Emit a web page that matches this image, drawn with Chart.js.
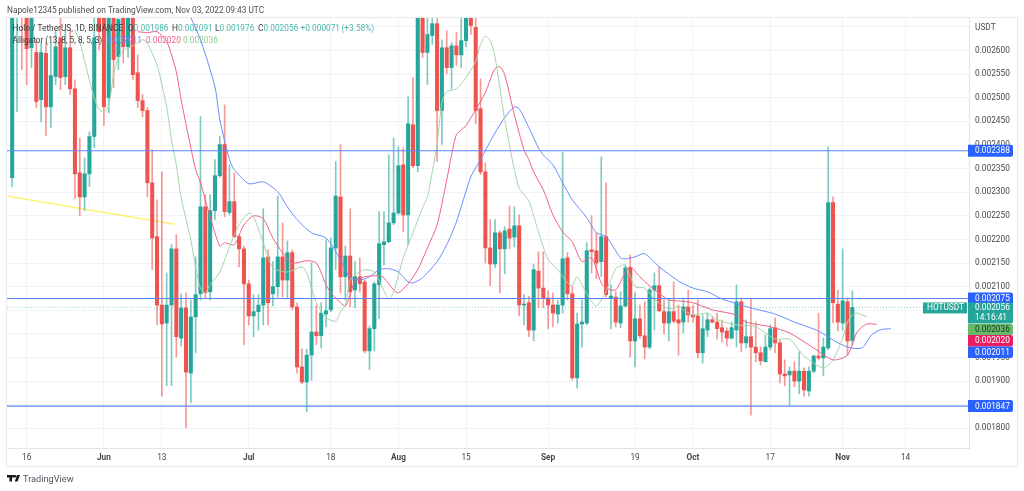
<!DOCTYPE html>
<html>
<head>
<meta charset="utf-8">
<title>HOTUSDT</title>
<script src="https://cdn.jsdelivr.net/npm/chart.js@4/dist/chart.umd.min.js"></script>
<style>
  html, body { margin: 0; padding: 0; background: #fff; overflow: hidden; }
  canvas { display: block; }
</style>
</head>
<body>
<canvas id="myChart" width="1024" height="491"></canvas>
<script>
// prices are in millionths of a USDT, days count from 16 May
const firstDay = -3;
const opens = [2331,2690,2720,2680,2606,2596,2496,2594,2481,2545,2627,2545,2606,2519,2341,2290,2339,2418,2690,2687,2500,2687,2587,2687,2608,2687,2553,2494,2473,2320,2206,2061,2023,2061,2180,1991,2055,1917,2036,2085,2269,2089,2261,2335,2401,2257,2280,2206,2180,2106,2038,2047,2061,2163,2085,2100,2163,2114,2172,2057,1930,1898,1955,2004,1996,2042,2051,2182,2290,2121,2165,2093,2121,2110,1964,2011,2104,2189,2195,2235,2256,2358,2252,2443,2356,2687,2596,2632,2657,2473,2606,2564,2610,2591,2621,2687,2649,2477,2343,2182,2148,2214,2180,2222,2205,2229,2061,2066,2008,2133,2097,2076,2061,2042,2061,2161,2085,1907,2021,2023,2178,2176,2153,2206,2076,2078,2023,2059,2140,1985,2032,1996,1972,2093,2102,2047,2023,2047,2030,2025,2057,2040,2038,1960,2008,2030,2025,2013,2006,1991,2008,2068,1981,1994,1972,1960,1941,1972,2013,1981,1915,1913,1921,1900,1921,1879,1921,1953,1949,1970,2278,2063,2023,2068,1986];
const closes = [2687,2720,2690,2604,2680,2492,2596,2481,2547,2608,2543,2606,2519,2339,2290,2339,2418,2627,2640,2481,2676,2581,2666,2608,2687,2549,2494,2473,2320,2203,2061,2021,2061,2180,1994,2055,1919,2036,2083,2269,2087,2261,2335,2401,2259,2280,2206,2180,2106,2038,2047,2061,2161,2066,2100,2163,2114,2172,2057,1930,1898,1955,2004,1996,2044,2049,2182,2292,2121,2165,2089,2121,2106,1964,2011,2106,2191,2195,2235,2256,2356,2252,2445,2356,2687,2596,2634,2657,2473,2606,2564,2610,2591,2621,2687,2653,2473,2343,2182,2148,2214,2180,2218,2203,2229,2061,2063,2008,2136,2097,2076,2061,2044,2061,2159,2085,1907,2021,2025,2176,2174,2150,2206,2083,2080,2025,2059,2140,1985,2032,1996,1972,2093,2102,2049,2023,2047,2027,2023,2057,2040,2036,1960,2011,2030,2025,2011,2004,1991,2013,2068,1981,1994,1972,1960,1943,1972,2011,1981,1915,1911,1921,1900,1921,1881,1921,1953,1949,1972,2278,2066,2025,2070,1985,2056];
const highs = [2697,2730,2730,2700,2700,2623,2617,2617,2617,2644,2670,2644,2644,2538,2415,2373,2428,2670,2700,2700,2700,2700,2690,2700,2700,2700,2591,2507,2479,2390,2284,2343,2129,2189,2210,2085,2087,2072,2163,2460,2295,2295,2369,2418,2485,2358,2341,2210,2186,2114,2083,2083,2265,2178,2153,2292,2235,2197,2178,2066,1968,1968,2150,2061,2066,2199,2203,2365,2401,2186,2265,2153,2161,2114,2017,2110,2259,2259,2379,2415,2396,2394,2502,2543,2700,2700,2670,2670,2687,2623,2642,2617,2638,2670,2700,2700,2670,2540,2362,2242,2242,2218,2227,2271,2269,2252,2083,2080,2148,2174,2174,2091,2087,2072,2384,2172,2100,2044,2072,2193,2250,2214,2375,2320,2104,2089,2089,2146,2167,2087,2061,2068,2097,2129,2142,2072,2072,2110,2061,2076,2093,2061,2072,2040,2044,2036,2044,2030,2013,2025,2104,2076,2030,2076,2025,1972,1998,2019,2034,1987,1945,1930,1941,1962,1928,1930,1955,2044,1991,2396,2290,2093,2180,2076,2091];
const lows = [2312,2471,2560,2528,2564,2479,2449,2420,2437,2528,2517,2528,2507,2286,2250,2261,2312,2394,2602,2441,2468,2521,2560,2574,2585,2538,2479,2460,2290,2136,2019,1868,1890,1890,1951,1974,1801,1854,1960,2072,2076,2072,2242,2331,2248,2252,2203,2142,1977,2019,1994,2008,2019,2019,2059,2078,2078,2076,2051,1917,1894,1835,1902,1977,1970,2015,2047,2136,2087,2072,2057,2055,2089,1960,1924,1964,2032,2146,2193,2231,2252,2216,2189,2352,2343,2585,2528,2613,2365,2401,2551,2519,2568,2564,2608,2634,2445,2337,2150,2102,2140,2087,2127,2180,2184,2038,2019,1994,1985,2055,2055,2011,2015,2023,2044,2072,1902,1885,1972,2019,2129,2117,2121,2078,2011,2015,2013,2057,1951,1930,1991,1947,1968,2008,2047,2000,1985,2023,1955,2002,2025,2025,1949,1938,1994,2023,1989,1983,1974,1989,1972,1962,1970,1828,1941,1934,1941,1966,1960,1896,1890,1849,1888,1873,1868,1868,1917,1945,1911,1966,2023,2006,2008,1955,1976];

const jawDays = [34,36,39,40,42,43,46,49,52,54,56,59,62,65,67,69,71,73,75,77,79,80,82,85,87,89,92,94,97,99,101,102,104,106,107,109,111,113,116,118,120,123,124,126,128,131,135,138,141,144,150,155,159,164,167,170,173,175,177,179];
const jawValues = [2670,2623,2523,2454,2369,2348,2318,2322,2301,2269,2242,2214,2203,2157,2119,2114,2121,2136,2138,2131,2110,2108,2119,2153,2189,2237,2333,2369,2426,2458,2481,2477,2437,2394,2379,2358,2320,2284,2246,2214,2206,2161,2159,2163,2170,2142,2112,2097,2089,2074,2055,2042,2025,2006,1987,1972,1970,1998,2009,2011];
const teethDays = [23,25,27,29,30,31,32,34,35,36,38,40,41,43,45,47,49,51,53,55,58,60,62,63,65,66,67,68,70,73,74,76,77,79,81,83,85,87,88,89,90,91,93,95,96,97,98,99,101,103,104,105,107,109,111,113,115,117,119,120,122,124,125,127,130,133,135,138,142,147,149,154,158,163,167,170,172,174,176];
const teethValues = [2640,2638,2640,2619,2591,2555,2496,2394,2348,2320,2248,2186,2193,2189,2231,2250,2244,2203,2172,2150,2155,2150,2104,2087,2066,2059,2083,2112,2121,2123,2119,2093,2087,2106,2136,2182,2231,2326,2379,2422,2432,2441,2475,2511,2538,2562,2566,2549,2464,2390,2369,2343,2305,2252,2216,2195,2153,2161,2108,2097,2093,2131,2142,2121,2093,2072,2070,2066,2051,2040,2025,2015,2002,1970,1945,1955,2004,2021,2020];
const lipsDays = [10,11,12,14,15,16,17,18,19,20,22,24,25,27,28,29,30,31,32,34,35,36,37,38,40,42,44,46,47,49,51,54,57,58,60,62,64,65,66,67,68,70,72,74,75,76,78,80,82,83,84,85,86,87,89,91,93,94,95,96,97,99,101,102,103,104,106,108,110,112,113,114,116,118,120,122,123,124,126,128,130,133,135,136,138,141,143,147,151,155,158,161,165,167,169,170,171,172,174];
const lipsValues = [2644,2619,2577,2500,2475,2470,2483,2549,2585,2600,2610,2623,2615,2570,2528,2481,2411,2358,2288,2199,2140,2097,2087,2104,2131,2184,2231,2256,2248,2193,2140,2131,2142,2129,2066,2034,2027,2047,2061,2114,2125,2136,2131,2091,2074,2089,2161,2214,2267,2290,2343,2401,2490,2513,2519,2543,2577,2613,2630,2621,2587,2454,2348,2309,2295,2282,2216,2157,2136,2108,2102,2121,2085,2059,2091,2138,2144,2146,2100,2097,2074,2053,2059,2051,2040,2044,2030,2019,2015,1989,1989,1953,1928,1945,1991,2025,2040,2044,2036];

const trendDays = [-4, 30.7];
const trendValues = [2292, 2232];
const levels = [2388, 2075, 1847];
const lastPrice = 2056;

const tickDays = [0,16,28,46,63,77,91,108,126,138,154,169,182];
const tickLabels = ['16','Jun','13','Jul','18','Aug','15','Sep','19','Oct','17','Nov','14'];
const monthDays = [16,46,77,108,138,169];

const UP = '#26a69a', DOWN = '#ef5350';
const UP_WICK = 'rgba(38,166,154,0.6)', DOWN_WICK = 'rgba(239,83,80,0.6)';
const FONT = 'Roboto, "Noto Sans", sans-serif';

function points(days, values) {
  return days.map((d, i) => ({x: d, y: values[i]}));
}

function lineSet(data, color, order, width) {
  return {type: 'line', data: data, borderColor: color, borderWidth: width || 1, pointRadius: 0, tension: 0.25, order: order};
}

const isUp = (i) => closes[i] >= opens[i];
const wicks = opens.map((o, i) => ({x: i + firstDay, y: [lows[i], highs[i]]}));
const bodies = opens.map((o, i) => ({x: i + firstDay, y: [Math.min(o, closes[i]), Math.max(o, closes[i])]}));

const overlay = {
  id: 'overlay',
  beforeDraw(chart) {
    const c = chart.ctx;
    c.save();
    c.fillStyle = '#fff';
    c.fillRect(0, 0, chart.width, chart.height);
    c.strokeStyle = '#e8eaf0';
    c.strokeRect(6.5, 17.5, 1011, 449);
    c.restore();
  },
  afterDraw(chart) {
    const c = chart.ctx, y = chart.scales.y;
    const text = (s, x, py, color, font) => {
      c.fillStyle = color;
      c.font = font || ('8.3px ' + FONT);
      c.fillText(s, x, py);
    };
    const tag = (py, h, color) => {
      c.fillStyle = color;
      c.beginPath();
      c.roundRect(968, py, 45, h, [0, 2, 2, 0]);
      c.fill();
    };
    c.save();
    c.textBaseline = 'middle';
    c.textAlign = 'left';

    text('Napole12345 published on TradingView.com, Nov 03, 2022 09:43 UTC', 7, 10.5, '#505050');
    text('Holo / TetherUS, 1D, BINANCE', 12.5, 29, '#3c3c3c');
    [['O', '0.001986', 128], ['H', '0.002091', 172], ['L', '0.001976', 215], ['C', '0.002056', 258]].forEach((o) => {
      text(o[0], o[2], 29, '#3c3c3c');
      text(o[1], o[2] + c.measureText(o[0]).width, 29, '#4db6ac');
    });
    text('+0.000071', 300.5, 29, '#4db6ac');
    text('(+3.58%)', 341.5, 29, '#4db6ac');
    text('Alligator (13, 8, 5, 8, 5, 3)', 12.5, 40.5, '#3c3c3c');
    text('0.002011', 107, 40.5, '#6a8dff');
    text('0.002020', 146, 40.5, '#f0608a');
    text('0.002036', 183, 40.5, '#8ecb91');
    text('USDT', 975, 27.5, '#505050');

    // price tags on the axis
    const lab = (v) => (v / 1e6).toFixed(6);
    levels.forEach((v) => {
      const py = y.getPixelForValue(v);
      tag(py - 6, 12, '#2962ff');
      text(lab(v), 975, py + 0.5, '#fff');
    });
    const py = y.getPixelForValue(lastPrice);
    tag(py - 5, 21, UP);
    text(lab(lastPrice), 975, py + 0.5, '#fff');
    text('14:16:41', 975, py + 10.5, '#fff');
    c.fillStyle = UP;
    c.fillRect(923, py - 5, 44, 11);
    text('HOTUSDT', 927, py + 0.5, '#fff');
    tag(324, 11, '#66bb6a');
    text('0.002036', 975, 329.5, '#17341a');
    tag(335, 11.5, '#e91e63');
    text('0.002020', 975, 341, '#fff');
    tag(346.5, 11.5, '#2962ff');
    text('0.002011', 975, 352.5, '#fff');

    // TradingView mark
    c.fillStyle = '#131722';
    c.fillRect(7, 475, 7, 2.5);
    c.fillRect(9.5, 475, 2.5, 6.5);
    c.beginPath();
    c.arc(15, 476.3, 1.3, 0, Math.PI * 2);
    c.fill();
    c.beginPath();
    c.moveTo(17, 475);
    c.lineTo(20, 475);
    c.lineTo(17.5, 481.5);
    c.lineTo(14.8, 481.5);
    c.closePath();
    c.fill();
    text('TradingView', 23, 479.5, '#50535e', '9.2px ' + FONT);
    c.restore();
  }
};

const lastLine = lineSet(points([-4.1, 195.2], [lastPrice, lastPrice]), '#8fd0c8', 4);
lastLine.borderDash = [1, 2];

new Chart(document.getElementById('myChart').getContext('2d'), {
  type: 'bar',
  plugins: [overlay],
  data: {
    datasets: [
      lineSet(points(trendDays, trendValues), '#fff07a', 5, 1.6),
      lastLine,
      {data: wicks, backgroundColor: (ctx) => isUp(ctx.dataIndex) ? UP_WICK : DOWN_WICK, barThickness: 1, grouped: false, order: 3},
      {data: bodies, backgroundColor: (ctx) => isUp(ctx.dataIndex) ? UP : DOWN, barThickness: 3.4, grouped: false, order: 2},
      lineSet(points(lipsDays, lipsValues), '#a5d6a7', 1),
      lineSet(points(teethDays, teethValues), '#f0608a', 1),
      lineSet(points(jawDays, jawValues), '#6a8dff', 1)
    ].concat(levels.map((v) => lineSet(points([-4.1, 195.2], [v, v]), '#5b84ff', 0, 1.1)))
  },
  options: {
    responsive: false,
    animation: false,
    devicePixelRatio: 1,
    layout: {padding: {top: 18, left: 7, right: 6, bottom: 24}},
    plugins: {legend: {display: false}, tooltip: {enabled: false}, title: {display: false}},
    scales: {
      x: {
        type: 'linear',
        offset: false,
        min: -4.07,
        max: 195.16,
        grid: {offset: false, color: '#f2f3f7', drawTicks: false},
        border: {color: '#e0e3eb'},
        afterBuildTicks(s) { s.ticks = tickDays.map((d) => ({value: d})); },
        afterFit(s) { s.height = 19; },
        ticks: {
          autoSkip: false,
          maxRotation: 0,
          padding: 5,
          color: '#484848',
          font: (ctx) => ({family: FONT, size: 8.3, weight: ctx.tick && monthDays.includes(ctx.tick.value) ? 'bold' : 'normal'}),
          callback: (v) => tickLabels[tickDays.indexOf(v)]
        }
      },
      y: {
        position: 'right',
        min: 1758.3,
        max: 2669,
        grid: {color: '#f2f3f7', drawTicks: false},
        border: {color: '#e0e3eb'},
        afterFit(s) { s.width = 49; },
        ticks: {
          stepSize: 50,
          includeBounds: false,
          autoSkip: false,
          padding: 6,
          color: '#484848',
          font: {family: FONT, size: 8.3},
          callback: (v) => v > 2600 ? '' : (v / 1e6).toFixed(6)
        }
      }
    }
  }
});
</script>
</body>
</html>
